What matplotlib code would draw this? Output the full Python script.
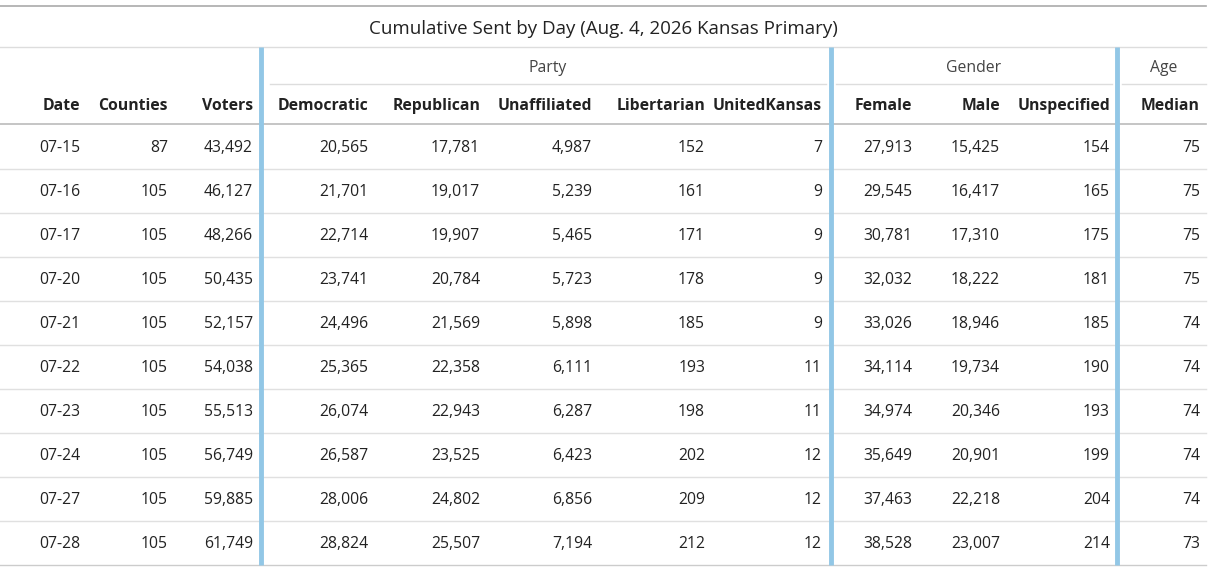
import matplotlib.pyplot as plt

plt.rcParams['font.family'] = ['Open Sans', 'DejaVu Sans']

title = "Cumulative Sent by Day (Aug. 4, 2026 Kansas Primary)"
columns = ["Date", "Counties", "Voters", "Democratic", "Republican", "Unaffiliated",
           "Libertarian", "UnitedKansas", "Female", "Male", "Unspecified", "Median"]
dates = ["07-15", "07-16", "07-17", "07-20", "07-21", "07-22", "07-23", "07-24", "07-27", "07-28"]
counties = [87, 105, 105, 105, 105, 105, 105, 105, 105, 105]
voters = [43492, 46127, 48266, 50435, 52157, 54038, 55513, 56749, 59885, 61749]
democratic = [20565, 21701, 22714, 23741, 24496, 25365, 26074, 26587, 28006, 28824]
republican = [17781, 19017, 19907, 20784, 21569, 22358, 22943, 23525, 24802, 25507]
unaffiliated = [4987, 5239, 5465, 5723, 5898, 6111, 6287, 6423, 6856, 7194]
libertarian = [152, 161, 171, 178, 185, 193, 198, 202, 209, 212]
united_kansas = [7, 9, 9, 9, 9, 11, 11, 12, 12, 12]
female = [27913, 29545, 30781, 32032, 33026, 34114, 34974, 35649, 37463, 38528]
male = [15425, 16417, 17310, 18222, 18946, 19734, 20346, 20901, 22218, 23007]
unspecified = [154, 165, 175, 181, 185, 190, 193, 199, 204, 214]
median_age = [75, 75, 75, 75, 74, 74, 74, 74, 74, 73]

# right edges of columns, pixels
col_right = [80, 168, 253, 368, 480, 592, 705, 822, 912, 1000, 1110, 1200]
groups = [("Party", 270, 826), ("Gender", 836, 1112), ("Age", 1122, 1206)]
separators = [261, 831, 1117]

W, H = 1222, 567
fig = plt.figure(figsize=(W / 100, H / 100), dpi=100)
ax = fig.add_axes([0, 0, 1, 1])
ax.set_xlim(0, W)
ax.set_ylim(H, 0)
ax.axis('off')

text_col = '#222222'
fs = 11.3
ax.plot([0, 1206], [6, 6], color='#aaaaaa', lw=1.2)
ax.text(603, 29, title, ha='center', va='center', fontsize=13.5, color=text_col)
ax.plot([0, 1206], [47, 47], color='#dddddd', lw=1)

for name, x0, x1 in groups:
    ax.text((x0 + x1) / 2, 68, name, ha='center', va='center', fontsize=fs, color='#444444')
    ax.plot([x0, x1], [84, 84], color='#dddddd', lw=1)

for col, xr in zip(columns, col_right):
    ax.text(xr, 106, col, ha='right', va='center', fontsize=fs, fontweight='bold', color=text_col)
ax.plot([0, 1206], [124, 124], color='#bbbbbb', lw=1.2)

rows = list(zip(dates, counties, voters, democratic, republican, unaffiliated,
                libertarian, united_kansas, female, male, unspecified, median_age))
row_h = 44
for i, row in enumerate(rows):
    yc = 148 + i * row_h
    for val, xr in zip(row, col_right):
        s = val if isinstance(val, str) else f"{val:,}"
        ax.text(xr, yc, s, ha='right', va='center', fontsize=fs, color=text_col)
    yl = yc - 1 + row_h / 2
    ax.plot([0, 1206], [yl, yl], color='#e0e0e0' if i < len(rows) - 1 else '#cccccc', lw=1)

for x in separators:
    ax.plot([x, x], [47, 565], color='#92c7e6', lw=3.5, solid_capstyle='butt')

fig.savefig('out.png', dpi=100)
